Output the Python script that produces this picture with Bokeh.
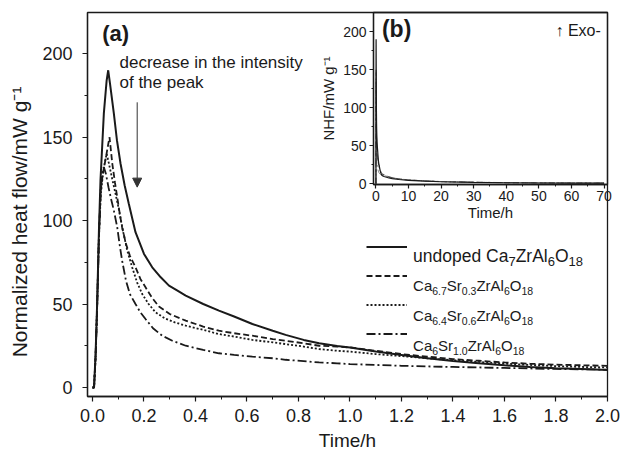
from bokeh.plotting import figure
from bokeh.models import (Range1d, Label, Arrow, NormalHead, Legend, LegendItem,
                          GridBox, FixedTicker, NumeralTickFormatter)
from bokeh.core.properties import value
from bokeh.embed import file_html
from bokeh.resources import INLINE

FONT = "Liberation Sans"
INK = "#1a1a1a"

# ---------------- data ----------------
time_undoped = [0.0, 0.006, 0.012, 0.018, 0.025, 0.031, 0.044, 0.055, 0.061, 0.068, 0.083, 0.095,
                0.109, 0.125, 0.141, 0.167, 0.2, 0.232, 0.265, 0.297, 0.33, 0.362, 0.43, 0.491,
                0.55, 0.621, 0.7, 0.75, 0.82, 0.88, 0.95, 1.0, 1.1, 1.2, 1.3, 1.4, 1.5, 1.6,
                1.7, 1.8, 1.9, 2.0]
hf_undoped = [0, 0, 20, 50, 94, 124, 164, 184, 190, 182, 164, 148,
              134, 121, 110, 93, 80, 72, 66, 61, 58, 55, 50, 46,
              42.5, 38, 34, 31.5, 28.5, 26.5, 24.8, 24, 21.5, 19.5, 17.5, 15.8, 14.5, 13.3,
              12.3, 11.5, 11, 10.5]

time_sr03 = [0.0, 0.006, 0.012, 0.018, 0.025, 0.032, 0.04, 0.05, 0.058, 0.066, 0.077, 0.087,
             0.096, 0.106, 0.115, 0.13, 0.145, 0.167, 0.186, 0.206, 0.23, 0.258, 0.3, 0.362,
             0.43, 0.491, 0.55, 0.621, 0.7, 0.75, 0.82, 0.88, 0.95, 1.0, 1.1, 1.2, 1.3, 1.4,
             1.5, 1.6, 1.7, 1.8, 1.9, 2.0]
hf_sr03 = [0, 0, 18, 48, 90, 118, 128, 136, 143, 150, 134, 123,
           114, 104, 96, 86, 79, 72, 65, 60, 54, 48.5, 44, 40,
           36.5, 34, 32.5, 31, 29, 28, 26.5, 25, 24.5, 24, 22, 20, 18.5, 17,
           16, 15, 14.2, 13.7, 13.3, 13]

time_sr06 = [0.0, 0.006, 0.012, 0.018, 0.025, 0.032, 0.04, 0.048, 0.055, 0.064, 0.075, 0.088,
             0.102, 0.118, 0.135, 0.154, 0.173, 0.193, 0.218, 0.245, 0.28, 0.32, 0.362, 0.43,
             0.491, 0.55, 0.621, 0.7, 0.75, 0.82, 0.88, 0.95, 1.0, 1.1, 1.2, 1.3, 1.4, 1.5,
             1.6, 1.7, 1.8, 1.9, 2.0]
hf_sr06 = [0, 0, 18, 48, 90, 115, 127, 135, 140, 134, 126, 117,
           107, 94, 82, 72, 63, 56, 50, 45, 41.5, 39, 37, 34.5,
           32, 30.5, 28.5, 27, 26, 24.5, 23, 22, 21.5, 20, 18.8, 17.5, 16.3, 15.3,
           14.3, 13.5, 12.8, 12.3, 12]

time_sr10 = [0.0, 0.006, 0.012, 0.018, 0.025, 0.032, 0.038, 0.044, 0.052, 0.062, 0.072, 0.083,
             0.096, 0.105, 0.115, 0.13, 0.145, 0.167, 0.186, 0.206, 0.235, 0.271, 0.31, 0.362,
             0.43, 0.491, 0.55, 0.621, 0.7, 0.75, 0.82, 0.88, 0.95, 1.0, 1.1, 1.2, 1.3, 1.4,
             1.5, 1.6, 1.7, 1.8, 1.9, 2.0]
hf_sr10 = [0, 0, 18, 48, 90, 118, 129, 132, 128, 120, 113, 106,
           96, 86, 76, 64, 56, 50, 45, 41, 35.5, 31, 28, 25,
           22.5, 20.5, 19.5, 18.5, 17.5, 16.6, 15.8, 15, 14.5, 14, 13.5, 13, 12.6, 12.3,
           12, 11.7, 11.4, 11.1, 10.9, 10.7]

# long-time tail shown in the inset (b)
time_long = [2.5, 3, 4, 5, 7, 10, 15, 20, 30, 40, 50, 60, 70]
hf_long_undoped = [9.5, 8.8, 7.6, 6.8, 5.6, 4.5, 3.4, 2.6, 1.8, 1.3, 1.0, 0.8, 0.7]
hf_long_sr03 = [11.8, 10.8, 9.2, 8.0, 6.4, 5.0, 3.7, 2.8, 1.9, 1.4, 1.1, 0.9, 0.7]
hf_long_sr06 = [11.0, 10.2, 8.8, 7.7, 6.2, 4.9, 3.6, 2.7, 1.9, 1.4, 1.1, 0.9, 0.7]
hf_long_sr10 = [10.2, 9.7, 8.7, 7.8, 6.4, 5.1, 3.8, 2.9, 2.0, 1.5, 1.2, 0.9, 0.8]

# legend texts as (text, "n" normal / "s" subscript) runs
legend_runs = [
    [("undoped Ca", "n"), ("7", "s"), ("ZrAl", "n"), ("6", "s"), ("O", "n"), ("18", "s")],
    [("Ca", "n"), ("6.7", "s"), ("Sr", "n"), ("0.3", "s"), ("ZrAl", "n"), ("6", "s"), ("O", "n"), ("18", "s")],
    [("Ca", "n"), ("6.4", "s"), ("Sr", "n"), ("0.6", "s"), ("ZrAl", "n"), ("6", "s"), ("O", "n"), ("18", "s")],
    [("Ca", "n"), ("6", "s"), ("Sr", "n"), ("1.0", "s"), ("ZrAl", "n"), ("6", "s"), ("O", "n"), ("18", "s")],
]

x_ticks_main = [0.0, 0.2, 0.4, 0.6, 0.8, 1.0, 1.2, 1.4, 1.6, 1.8, 2.0]
x_minor_main = [0.1, 0.3, 0.5, 0.7, 0.9, 1.1, 1.3, 1.5, 1.7, 1.9]
y_ticks_main = [0, 50, 100, 150, 200]
y_minor_main = [25, 75, 125, 175]
x_ticks_inset = [0, 10, 20, 30, 40, 50, 60, 70]
x_minor_inset = [5, 15, 25, 35, 45, 55, 65]
y_ticks_inset = [0, 50, 100, 150, 200]
y_minor_inset = [25, 75, 125, 175]

# Arial / Liberation Sans advance widths (1/1000 em) for laying out subscripts
ADV = {' ': 278, '.': 278, 'C': 722, 'a': 556, 'S': 667, 'r': 333, 'Z': 611, 'A': 667,
       'l': 222, 'O': 778, 'u': 556, 'n': 556, 'd': 556, 'o': 556, 'p': 556, 'e': 556}


def adv(s, size):
    return sum(ADV.get(c, 556) for c in s) * size / 1000.0


def style_axes(fig, tick_size, label_size, tick_out, minor_out):
    for ax in (fig.xaxis[0], fig.yaxis[0]):
        ax.axis_line_color = INK
        ax.axis_line_width = 1.3
        ax.major_tick_line_color = INK
        ax.minor_tick_line_color = INK
        ax.major_tick_line_width = 1.2
        ax.minor_tick_line_width = 1.0
        ax.major_tick_in = 0
        ax.minor_tick_in = 0
        ax.major_tick_out = tick_out
        ax.minor_tick_out = minor_out
        ax.major_label_text_font = FONT
        ax.major_label_text_font_size = tick_size
        ax.major_label_text_color = INK
        ax.axis_label_text_font = FONT
        ax.axis_label_text_font_size = label_size
        ax.axis_label_text_font_style = "normal"
        ax.axis_label_text_color = INK
    fig.grid.visible = False
    fig.outline_line_color = INK
    fig.outline_line_width = 1.3


# ---------------- main plot (a) ----------------
p = figure(frame_width=520, frame_height=384,
           min_border_left=87, min_border_right=18, min_border_top=12, min_border_bottom=60,
           x_range=Range1d(-0.0194, 2.0), y_range=Range1d(-5.4, 224.6),
           output_backend="svg", toolbar_location=None)
style_axes(p, "18px", "21px", 5, 3)
p.xaxis.axis_label_text_font_size = "19px"
p.xaxis.ticker = FixedTicker(ticks=x_ticks_main, minor_ticks=x_minor_main)
p.yaxis.ticker = FixedTicker(ticks=y_ticks_main, minor_ticks=y_minor_main)
p.xaxis.formatter = NumeralTickFormatter(format="0.0")
p.xaxis.axis_label = "Time/h"
p.yaxis.axis_label = "Normalized heat flow/mW g\u207b\u00b9" + "\u00a0" * 6
p.xaxis.major_label_standoff = 7
p.xaxis.axis_label_standoff = 5
p.yaxis.major_label_standoff = 10
p.yaxis.axis_label_standoff = 8

r1 = p.line(time_undoped, hf_undoped, line_color=INK, line_width=2.0)
r2 = p.line(time_sr03, hf_sr03, line_color=INK, line_width=1.8, line_dash="6 3")
r3 = p.line(time_sr06, hf_sr06, line_color=INK, line_width=1.8, line_dash="2 2")
r4 = p.line(time_sr10, hf_sr10, line_color=INK, line_width=1.8, line_dash="9 3 2 3")

legend = Legend(items=[LegendItem(label=value(" "), renderers=[r]) for r in (r1, r2, r3, r4)],
                location=(279, 52), glyph_width=41, glyph_height=21, label_height=21,
                label_width=1, label_standoff=0, spacing=8, padding=0, margin=0,
                background_fill_alpha=0, border_line_alpha=0, label_text_font_size="8px")
p.add_layout(legend)

# rich-text legend labels (with subscripts)
legend_text_x = 1.245
legend_baselines = [79.0, 61.1, 43.1, 25.1]
legend_sizes = [(17.5, 13.0), (15.0, 10.5), (15.0, 10.5), (15.0, 10.5)]
for runs, yb, (fs, ss) in zip(legend_runs, legend_baselines, legend_sizes):
    off = 0.0
    for txt, kind in runs:
        size = fs if kind == "n" else ss
        p.add_layout(Label(x=legend_text_x, y=yb, x_offset=off, y_offset=0 if kind == "n" else -5.5,
                           text=txt, text_font=FONT, text_font_size=f"{size}px",
                           text_color=INK, text_align="left", text_baseline="alphabetic"))
        off += adv(txt, size)

p.add_layout(Label(x=0.0377, y=212.3, text="(a)", text_font=FONT, text_font_size="22px",
                   text_font_style="bold", text_color=INK, text_baseline="middle"))
p.add_layout(Label(x=0.1048, y=194.8, text="decrease in the intensity", text_font=FONT,
                   text_font_size="17px", text_color=INK, text_baseline="alphabetic"))
p.add_layout(Label(x=0.1048, y=182.8, text="of the peak", text_font=FONT,
                   text_font_size="17px", text_color=INK, text_baseline="alphabetic"))
p.add_layout(Arrow(end=NormalHead(size=9, fill_color="#333333", line_color="#333333", line_width=1),
                   x_start=0.1736, y_start=170.8, x_end=0.1736, y_end=120,
                   line_color="#333333", line_width=1))

# ---------------- inset (b) ----------------
q = figure(frame_width=234, frame_height=172,
           min_border_left=87, min_border_right=18, min_border_top=12, min_border_bottom=60,
           x_range=Range1d(-0.74, 71.05), y_range=Range1d(-1, 225),
           output_backend="svg", toolbar_location=None)
q.background_fill_alpha = 0
q.border_fill_alpha = 0
style_axes(q, "14px", "15px", 4, 2)
q.xaxis.ticker = FixedTicker(ticks=x_ticks_inset, minor_ticks=x_minor_inset)
q.yaxis.ticker = FixedTicker(ticks=y_ticks_inset, minor_ticks=y_minor_inset)
q.xaxis.axis_label = "Time/h"
q.yaxis.axis_label = "NHF/mW g\u207b\u00b9"
q.xaxis.major_label_standoff = 2
q.xaxis.axis_label_standoff = 0
q.yaxis.major_label_standoff = 3
q.yaxis.axis_label_standoff = 3

q.line(time_sr10 + time_long, hf_sr10 + hf_long_sr10, line_color="#777777", line_width=1.0, line_dash="9 3 2 3")
q.line(time_sr06 + time_long, hf_sr06 + hf_long_sr06, line_color="#777777", line_width=1.0, line_dash="2 2")
q.line(time_sr03 + time_long, hf_sr03 + hf_long_sr03, line_color="#555555", line_width=1.0, line_dash="6 3")
q.line(time_undoped + time_long, hf_undoped + hf_long_undoped, line_color=INK, line_width=1.2)

q.add_layout(Label(x=1.85, y=202.8, text="(b)", text_font=FONT, text_font_size="23px",
                   text_font_style="bold", text_color=INK, text_baseline="middle"))
q.add_layout(Label(x=69.0, y=201.4, text="\u2191 Exo-", text_font=FONT, text_font_size="16px",
                   text_color=INK, text_align="right", text_baseline="middle"))

q.margin = (0, 0, 0, 286)
layout = GridBox(children=[(p, 0, 0), (q, 0, 0)])

open("out.html", "w").write(file_html(layout, INLINE))
